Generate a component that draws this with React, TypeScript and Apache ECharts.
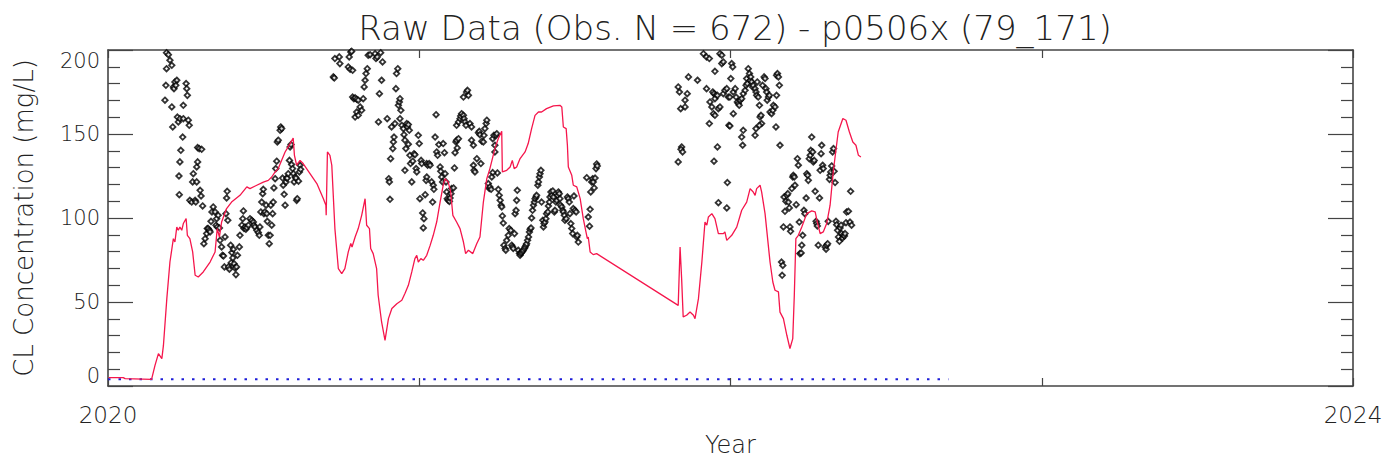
import React, { useEffect, useRef } from "react";
import * as echarts from "echarts";

// ---- Data ----
const xLabelYears = [2020, 2024];
const detectionLimit = [[2020.0, 4], [2022.70, 4]];

const model2020 = [
  [2020.002, 5.0], [2020.049, 5.0], [2020.055, 4.4], [2020.140, 4.0], [2020.151, 12.3], [2020.162, 19.3],
  [2020.173, 16.3], [2020.178, 24.0], [2020.189, 52.0], [2020.199, 73.8], [2020.210, 87.7], [2020.215, 85.7],
  [2020.221, 94.6], [2020.226, 92.7], [2020.231, 94.6], [2020.237, 92.7], [2020.242, 96.7], [2020.251, 99.6],
  [2020.255, 89.7], [2020.263, 87.7], [2020.272, 79.8], [2020.280, 65.9], [2020.290, 64.9], [2020.306, 67.9],
  [2020.328, 73.8], [2020.344, 79.8], [2020.351, 93.7], [2020.358, 88.7], [2020.365, 97.6], [2020.381, 105.6],
  [2020.397, 109.5], [2020.424, 113.5], [2020.446, 118.5], [2020.456, 117.5], [2020.478, 119.5], [2020.499, 121.4],
  [2020.515, 122.4], [2020.526, 124.4], [2020.537, 127.4], [2020.547, 129.4], [2020.569, 139.3], [2020.585, 144.3],
  [2020.595, 147.6], [2020.599, 137.3], [2020.606, 131.4], [2020.617, 134.3], [2020.627, 132.4], [2020.649, 126.4],
  [2020.671, 120.5], [2020.692, 111.5], [2020.700, 107.6], [2020.701, 101.6], [2020.705, 139.3], [2020.713, 137.3],
  [2020.719, 131.4], [2020.729, 93.7], [2020.740, 69.9], [2020.751, 66.9], [2020.761, 69.9], [2020.772, 79.8],
  [2020.780, 84.8], [2020.784, 82.7], [2020.794, 88.7], [2020.804, 93.7], [2020.815, 101.6], [2020.826, 111.5],
  [2020.831, 95.7], [2020.840, 93.7], [2020.844, 81.8], [2020.852, 78.8], [2020.863, 69.9], [2020.868, 54.0],
  [2020.879, 38.1], [2020.890, 27.2], [2020.901, 40.1], [2020.912, 46.1], [2020.928, 49.0], [2020.944, 51.0],
  [2020.954, 55.0], [2020.965, 59.9], [2020.976, 67.9], [2020.986, 75.8], [2020.992, 77.8], [2020.997, 73.8]
];

const model2021 = [
  [2021.005, 75.8], [2021.013, 74.8], [2021.024, 77.8], [2021.035, 83.7], [2021.045, 89.7], [2021.056, 97.6],
  [2021.067, 109.5], [2021.077, 119.5], [2021.083, 123.4], [2021.093, 121.4], [2021.101, 115.5], [2021.108, 101.6],
  [2021.120, 97.6], [2021.131, 93.7], [2021.142, 85.7], [2021.149, 78.8], [2021.158, 80.8], [2021.172, 78.8],
  [2021.185, 84.8], [2021.195, 88.7], [2021.206, 109.5], [2021.217, 123.4], [2021.227, 129.4], [2021.243, 141.3],
  [2021.254, 147.3], [2021.265, 151.6], [2021.267, 127.4], [2021.281, 128.4], [2021.292, 130.4], [2021.299, 134.3],
  [2021.305, 129.4], [2021.313, 130.4], [2021.324, 135.4], [2021.340, 139.3], [2021.350, 144.3], [2021.361, 153.2],
  [2021.372, 161.1], [2021.383, 163.1], [2021.393, 163.1], [2021.409, 165.1], [2021.431, 166.7], [2021.452, 167.1],
  [2021.458, 166.1], [2021.463, 154.2], [2021.472, 153.2], [2021.476, 143.3], [2021.479, 130.4], [2021.490, 125.4],
  [2021.495, 119.5], [2021.506, 118.5], [2021.517, 111.5], [2021.527, 99.6], [2021.540, 87.7], [2021.543, 88.7],
  [2021.549, 79.8], [2021.559, 78.2], [2021.570, 78.8], [2021.832, 48.0], [2021.838, 82.7], [2021.843, 63.9],
  [2021.848, 41.1], [2021.859, 42.1], [2021.870, 44.0], [2021.881, 42.1], [2021.886, 40.1], [2021.897, 52.0],
  [2021.908, 73.8], [2021.918, 97.6], [2021.924, 95.7], [2021.929, 100.6], [2021.940, 102.6], [2021.950, 99.6],
  [2021.961, 90.7], [2021.977, 90.7], [2021.982, 91.7], [2021.988, 86.7]
];

const model2022 = [
  [2022.004, 89.7], [2022.020, 94.6], [2022.036, 104.6], [2022.052, 109.5], [2022.063, 117.5], [2022.073, 115.5],
  [2022.079, 113.5], [2022.084, 117.5], [2022.095, 119.5], [2022.100, 115.5], [2022.111, 102.6], [2022.127, 73.8],
  [2022.136, 61.9], [2022.143, 57.0], [2022.154, 56.0], [2022.159, 44.0], [2022.170, 40.1], [2022.181, 30.2],
  [2022.191, 22.3], [2022.200, 28.2], [2022.205, 54.0], [2022.210, 87.7], [2022.218, 89.7], [2022.229, 94.6],
  [2022.245, 102.6], [2022.261, 104.2], [2022.272, 103.6], [2022.279, 97.6], [2022.288, 90.7], [2022.298, 91.7],
  [2022.309, 96.7], [2022.320, 107.6], [2022.330, 127.4], [2022.346, 151.2], [2022.361, 159.2], [2022.371, 158.2],
  [2022.382, 151.2], [2022.393, 145.2], [2022.403, 143.3], [2022.411, 137.3], [2022.419, 136.3]
];

const obs2020A = [
  [2020.188, 198.4], [2020.194, 197.2], [2020.199, 193.9], [2020.205, 190.9], [2020.188, 188.9], [2020.186, 179.0],
  [2020.183, 170.1], [2020.205, 166.1], [2020.210, 178.0], [2020.212, 177.0], [2020.215, 181.0], [2020.221, 182.0],
  [2020.218, 179.0], [2020.208, 154.2], [2020.223, 160.1], [2020.226, 157.2], [2020.231, 159.1], [2020.242, 159.1],
  [2020.240, 148.2], [2020.234, 140.3], [2020.231, 133.4], [2020.228, 125.0], [2020.229, 113.9], [2020.242, 167.1],
  [2020.251, 180.0], [2020.253, 177.0], [2020.255, 173.0], [2020.258, 158.2], [2020.261, 155.2], [2020.263, 110.5],
  [2020.269, 109.5], [2020.272, 121.5], [2020.274, 126.4], [2020.280, 110.5], [2020.282, 109.5], [2020.285, 121.5],
  [2020.285, 130.4], [2020.288, 133.4], [2020.288, 141.9], [2020.293, 141.3], [2020.301, 140.9], [2020.296, 116.5],
  [2020.299, 113.1], [2020.304, 107.2], [2020.308, 84.7], [2020.312, 87.7], [2020.317, 90.7], [2020.319, 93.7],
  [2020.322, 93.7], [2020.326, 92.7], [2020.328, 91.7], [2020.331, 98.0], [2020.334, 103.6], [2020.338, 106.6],
  [2020.344, 103.6], [2020.347, 95.7], [2020.349, 99.6], [2020.354, 101.6], [2020.351, 94.7], [2020.358, 94.1],
  [2020.360, 86.7], [2020.365, 82.8], [2020.368, 77.8], [2020.371, 77.4], [2020.374, 70.9], [2020.376, 88.7],
  [2020.379, 102.6], [2020.381, 111.9], [2020.383, 115.9], [2020.385, 98.6], [2020.387, 70.9], [2020.390, 69.5],
  [2020.394, 83.8], [2020.396, 73.4], [2020.398, 79.4], [2020.401, 76.2], [2020.403, 81.4], [2020.405, 72.8],
  [2020.408, 70.3], [2020.411, 66.3], [2020.413, 70.9], [2020.416, 77.8], [2020.422, 82.8], [2020.424, 89.7],
  [2020.430, 95.7], [2020.433, 99.6], [2020.435, 104.2], [2020.437, 93.7], [2020.440, 94.7], [2020.443, 93.3],
  [2020.446, 94.3], [2020.451, 95.7], [2020.456, 99.6], [2020.462, 98.6], [2020.467, 97.6], [2020.469, 95.7],
  [2020.472, 94.7], [2020.478, 92.7], [2020.483, 91.3], [2020.486, 89.7], [2020.488, 94.7], [2020.491, 103.6],
  [2020.494, 109.5], [2020.497, 114.5], [2020.499, 117.1], [2020.501, 102.6], [2020.504, 103.6], [2020.508, 107.6],
  [2020.510, 102.6], [2020.512, 98.0], [2020.515, 89.7], [2020.518, 84.7], [2020.521, 89.7], [2020.523, 107.6],
  [2020.526, 95.7], [2020.529, 102.6], [2020.531, 109.5], [2020.533, 117.9], [2020.537, 123.4], [2020.539, 129.4],
  [2020.542, 133.8], [2020.544, 145.3], [2020.547, 146.3], [2020.553, 152.2], [2020.555, 154.2], [2020.558, 153.2],
  [2020.561, 123.8], [2020.563, 119.5], [2020.566, 114.1], [2020.569, 107.6], [2020.572, 121.5], [2020.574, 123.8],
  [2020.576, 123.8], [2020.579, 126.4], [2020.583, 134.3], [2020.585, 142.3], [2020.588, 143.7], [2020.590, 131.8],
  [2020.593, 129.4], [2020.596, 126.4], [2020.598, 121.5], [2020.601, 124.4], [2020.604, 123.8], [2020.606, 110.5],
  [2020.608, 111.5], [2020.612, 121.9], [2020.615, 127.4], [2020.617, 131.4], [2020.619, 129.0]
];

const obs2020B = [
  [2020.724, 184.0], [2020.727, 183.4], [2020.729, 194.9], [2020.743, 195.9], [2020.745, 191.9], [2020.772, 189.9],
  [2020.778, 188.5], [2020.786, 187.9], [2020.775, 195.9], [2020.780, 198.8], [2020.783, 199.2], [2020.786, 172.0],
  [2020.790, 171.0], [2020.794, 171.5], [2020.799, 170.7], [2020.804, 170.1], [2020.810, 166.1], [2020.815, 164.1],
  [2020.799, 163.1], [2020.794, 160.1], [2020.804, 161.1], [2020.820, 171.0], [2020.823, 178.0], [2020.826, 182.0],
  [2020.829, 186.0], [2020.833, 188.9], [2020.836, 196.9], [2020.842, 197.2], [2020.858, 197.8], [2020.861, 194.9],
  [2020.865, 195.9], [2020.876, 198.4], [2020.882, 192.9], [2020.879, 182.0], [2020.872, 174.0], [2020.869, 157.2],
  [2020.897, 159.1], [2020.902, 123.4], [2020.904, 121.5], [2020.906, 111.1], [2020.908, 135.3], [2020.911, 154.2],
  [2020.915, 141.3], [2020.917, 145.3], [2020.919, 148.2], [2020.922, 156.2], [2020.925, 177.0], [2020.927, 186.0],
  [2020.931, 188.9], [2020.933, 167.1], [2020.936, 169.1], [2020.938, 171.0], [2020.941, 164.1], [2020.938, 159.1],
  [2020.944, 155.2], [2020.949, 153.2], [2020.951, 149.6], [2020.954, 146.3], [2020.957, 141.3], [2020.954, 128.4],
  [2020.960, 156.2], [2020.962, 154.2], [2020.965, 155.6], [2020.968, 152.2], [2020.965, 143.9], [2020.970, 137.3],
  [2020.972, 132.4], [2020.976, 121.5], [2020.979, 133.8], [2020.983, 138.3], [2020.986, 137.7], [2020.990, 129.4],
  [2020.992, 127.4], [2020.997, 149.2]
];

const obs2021A = [
  [2021.000, 144.3], [2021.002, 111.5], [2021.006, 134.3], [2021.008, 132.4], [2021.011, 103.0], [2021.013, 94.1],
  [2021.015, 99.6], [2021.019, 113.9], [2021.022, 122.4], [2021.024, 124.4], [2021.024, 132.4], [2021.027, 131.4],
  [2021.032, 132.4], [2021.035, 131.4], [2021.040, 121.5], [2021.043, 109.5], [2021.045, 119.5], [2021.047, 117.1],
  [2021.051, 148.2], [2021.054, 161.5], [2021.056, 139.3], [2021.059, 137.3], [2021.063, 143.7], [2021.067, 130.4],
  [2021.069, 127.8], [2021.072, 124.4], [2021.075, 121.5], [2021.077, 144.3], [2021.081, 138.9], [2021.083, 126.4],
  [2021.086, 121.5], [2021.088, 115.5], [2021.090, 111.5], [2021.093, 110.5], [2021.097, 109.9], [2021.099, 111.9],
  [2021.102, 114.5], [2021.104, 117.5], [2021.110, 117.9], [2021.113, 129.8], [2021.115, 138.9], [2021.118, 145.3],
  [2021.120, 146.3], [2021.122, 141.7], [2021.126, 147.2], [2021.120, 155.2], [2021.126, 157.2], [2021.131, 159.1],
  [2021.133, 160.7], [2021.136, 162.1], [2021.142, 161.1], [2021.144, 159.1], [2021.147, 157.2], [2021.150, 155.2],
  [2021.152, 175.0], [2021.158, 173.0], [2021.142, 172.0], [2021.155, 176.0], [2021.163, 156.2], [2021.168, 154.2],
  [2021.168, 146.3], [2021.174, 143.3], [2021.174, 131.4], [2021.176, 128.4], [2021.179, 127.4], [2021.185, 135.3],
  [2021.190, 150.8], [2021.193, 151.6], [2021.195, 149.6], [2021.198, 132.4], [2021.201, 145.7], [2021.206, 145.3],
  [2021.208, 149.2], [2021.211, 153.2], [2021.215, 156.2], [2021.217, 158.2], [2021.222, 120.5], [2021.225, 117.5]
];

const obs2021B = [
  [2021.236, 147.2], [2021.240, 149.2], [2021.243, 143.3], [2021.247, 149.2], [2021.243, 139.3], [2021.249, 150.2],
  [2021.251, 126.8], [2021.236, 127.0], [2021.233, 124.4], [2021.227, 118.5], [2021.231, 117.1], [2021.254, 117.1],
  [2021.257, 113.5], [2021.260, 110.5], [2021.263, 107.6], [2021.265, 106.6], [2021.267, 101.2], [2021.270, 97.0],
  [2021.272, 83.8], [2021.276, 81.8], [2021.278, 80.8], [2021.281, 86.7], [2021.286, 89.7], [2021.289, 93.7],
  [2021.294, 92.7], [2021.297, 83.8], [2021.300, 82.8], [2021.302, 81.8], [2021.306, 90.7], [2021.308, 102.6],
  [2021.311, 104.6], [2021.313, 110.5], [2021.315, 116.5], [2021.318, 80.8], [2021.322, 78.8], [2021.324, 77.8],
  [2021.326, 78.8], [2021.329, 79.4], [2021.332, 80.2], [2021.334, 80.8], [2021.338, 81.8], [2021.340, 82.8],
  [2021.343, 83.8], [2021.345, 84.7], [2021.348, 86.7], [2021.351, 88.7], [2021.354, 91.7], [2021.356, 93.3],
  [2021.359, 94.1], [2021.361, 100.0], [2021.364, 104.6], [2021.367, 107.6], [2021.370, 109.5], [2021.372, 111.5],
  [2021.375, 112.5], [2021.377, 113.5], [2021.381, 119.5], [2021.383, 121.5], [2021.386, 124.4], [2021.388, 126.4],
  [2021.391, 128.4], [2021.393, 109.5], [2021.397, 98.6], [2021.399, 94.7], [2021.401, 96.7], [2021.404, 97.6],
  [2021.407, 99.6], [2021.409, 102.6], [2021.413, 103.6], [2021.415, 107.2], [2021.418, 109.5], [2021.420, 112.5],
  [2021.423, 115.5], [2021.426, 113.5], [2021.429, 116.1], [2021.431, 112.5], [2021.434, 103.6], [2021.436, 104.6],
  [2021.439, 109.5], [2021.442, 110.5], [2021.445, 113.5], [2021.447, 115.5], [2021.450, 114.5], [2021.452, 111.5],
  [2021.454, 107.6], [2021.458, 106.6], [2021.461, 104.6], [2021.463, 103.6], [2021.466, 101.6], [2021.468, 98.6],
  [2021.472, 99.6], [2021.476, 112.5], [2021.479, 111.5], [2021.482, 109.5], [2021.484, 102.6], [2021.487, 96.7],
  [2021.490, 93.7], [2021.493, 90.7], [2021.495, 105.6], [2021.497, 113.1], [2021.500, 104.6], [2021.504, 103.6],
  [2021.506, 88.7], [2021.508, 89.7], [2021.511, 85.7], [2021.538, 124.0], [2021.543, 100.6], [2021.547, 95.1],
  [2021.549, 105.2], [2021.551, 115.5], [2021.554, 121.5], [2021.557, 123.4], [2021.559, 121.5], [2021.562, 117.9],
  [2021.565, 123.8], [2021.568, 129.4], [2021.570, 132.2], [2021.572, 131.0]
];

const obs2022A = [
  [2021.832, 178.0], [2021.836, 175.0], [2021.840, 165.1], [2021.843, 142.3], [2021.841, 140.9], [2021.846, 139.3],
  [2021.832, 133.4], [2021.854, 170.1], [2021.861, 174.0], [2021.854, 166.1], [2021.865, 184.0], [2021.894, 182.0],
  [2021.913, 197.8], [2021.923, 195.9], [2021.932, 194.9], [2021.950, 187.3], [2021.966, 197.8], [2021.972, 196.9],
  [2021.972, 191.9], [2021.977, 192.9], [2022.004, 191.9], [2022.007, 189.9], [2021.923, 177.0], [2021.943, 175.0],
  [2021.947, 174.0], [2021.953, 173.0], [2021.950, 171.0], [2021.958, 173.0], [2021.934, 169.1], [2021.940, 166.1],
  [2021.945, 162.1], [2021.950, 161.1], [2021.961, 165.1], [2021.966, 166.1], [2021.932, 156.2], [2021.958, 142.3],
  [2021.947, 133.8], [2021.977, 174.0], [2021.982, 176.0], [2021.988, 177.0], [2021.993, 172.0], [2021.998, 172.0],
  [2022.001, 183.0], [2022.009, 175.0], [2022.015, 177.0], [2022.018, 172.0], [2022.022, 169.1], [2022.025, 168.1],
  [2022.028, 167.1], [2022.031, 170.1], [2022.036, 171.0], [2022.041, 174.0], [2022.047, 176.0], [2022.050, 179.0],
  [2022.052, 183.0], [2022.054, 180.0], [2022.057, 188.9], [2022.061, 186.0], [2022.063, 182.0], [2022.065, 184.0],
  [2022.068, 181.0], [2022.071, 178.0], [2022.073, 179.0], [2022.079, 177.0], [2022.082, 175.0], [2022.084, 173.0],
  [2022.086, 181.0], [2022.089, 172.0], [2022.093, 167.1], [2022.095, 160.1], [2022.098, 161.1], [2022.100, 156.2],
  [2022.103, 179.0], [2022.108, 184.0], [2022.111, 183.0], [2022.114, 177.0], [2022.116, 175.0], [2022.118, 170.1],
  [2022.122, 172.0], [2022.125, 173.0], [2022.127, 163.1], [2022.132, 162.1], [2022.136, 164.1], [2022.138, 167.1],
  [2022.143, 166.1], [2022.146, 154.2], [2022.148, 184.9], [2022.151, 186.0], [2022.154, 184.0], [2022.157, 179.0],
  [2022.148, 173.0], [2022.159, 143.3], [2022.009, 162.1], [2021.995, 155.2], [2021.998, 154.8], [2022.041, 152.2],
  [2022.036, 148.2], [2022.039, 143.3], [2022.079, 149.2], [2022.082, 153.2], [2022.093, 155.2], [2021.990, 121.1],
  [2021.988, 106.0], [2021.961, 109.1]
];

const obs2022B = [
  [2022.164, 73.8], [2022.168, 71.8], [2022.166, 65.9], [2022.170, 94.7], [2022.172, 112.5], [2022.175, 104.0],
  [2022.178, 109.9], [2022.181, 113.5], [2022.184, 114.5], [2022.186, 109.5], [2022.189, 106.0], [2022.191, 94.7],
  [2022.193, 92.1], [2022.197, 117.5], [2022.200, 124.4], [2022.202, 125.4], [2022.205, 124.4], [2022.207, 119.5],
  [2022.211, 107.9], [2022.215, 135.3], [2022.218, 131.4], [2022.221, 97.6], [2022.223, 78.8], [2022.227, 79.2],
  [2022.229, 83.8], [2022.232, 89.7], [2022.236, 104.6], [2022.239, 102.6], [2022.243, 111.9], [2022.245, 126.4],
  [2022.248, 125.4], [2022.250, 122.4], [2022.253, 135.3], [2022.256, 137.3], [2022.258, 140.3], [2022.261, 148.2],
  [2022.264, 139.3], [2022.266, 133.4], [2022.269, 134.3], [2022.272, 115.9], [2022.275, 98.0], [2022.277, 96.7],
  [2022.279, 95.3], [2022.282, 83.8], [2022.286, 111.9], [2022.288, 128.4], [2022.291, 138.3], [2022.293, 143.3],
  [2022.296, 131.4], [2022.298, 129.4], [2022.304, 82.8], [2022.307, 81.4], [2022.309, 83.8], [2022.312, 84.7],
  [2022.314, 98.0], [2022.318, 123.0], [2022.320, 125.4], [2022.322, 127.4], [2022.325, 131.0], [2022.328, 139.3],
  [2022.331, 141.3], [2022.333, 127.8], [2022.336, 121.1], [2022.339, 98.0], [2022.341, 96.0], [2022.344, 92.7],
  [2022.347, 88.7], [2022.350, 86.1], [2022.352, 94.1], [2022.355, 95.7], [2022.357, 90.7], [2022.360, 88.1],
  [2022.363, 89.7], [2022.366, 89.3], [2022.368, 90.7], [2022.371, 97.2], [2022.373, 103.6], [2022.379, 104.0],
  [2022.384, 97.6], [2022.386, 115.9], [2022.389, 95.7]
];

const FONT = "'DejaVu Sans', 'Noto Sans', sans-serif";
const AXIS_COLOR = "#444";
const TEXT_COLOR = "#222";

export default function App() {
  const ref = useRef<HTMLDivElement>(null);

  useEffect(() => {
    if (!ref.current) return;
    const chart = echarts.init(ref.current, null, { renderer: "svg" });

    const axisLine = { show: true, onZero: false, lineStyle: { color: AXIS_COLOR, width: 1.6 } };
    const observations = [...obs2020A, ...obs2020B, ...obs2021A, ...obs2021B, ...obs2022A, ...obs2022B];
    const model = [...model2020, ...model2021, ...model2022];

    const xCommon = {
      type: "value",
      min: 2020,
      max: 2024,
      interval: 1,
      axisLine,
      splitLine: { show: false },
      axisTick: { show: true, inside: true, length: 8, lineStyle: { color: AXIS_COLOR, width: 1.2 } },
    };
    const yCommon = {
      type: "value",
      min: 0,
      max: 200,
      interval: 50,
      axisLine,
      splitLine: { show: false },
      axisTick: { show: true, inside: true, length: 25, lineStyle: { color: AXIS_COLOR, width: 1.2 } },
      minorTick: { show: true, splitNumber: 5, length: 12, lineStyle: { color: AXIS_COLOR, width: 1.2 } },
      minorSplitLine: { show: false },
    };

    chart.setOption({
      animation: false,
      backgroundColor: "#fff",
      title: {
        text: "Raw Data (Obs. N = 672) - p0506x (79_171)",
        left: 730,
        top: 6,
        textAlign: "center",
        textStyle: { fontFamily: FONT, fontSize: 34, fontWeight: 200, color: TEXT_COLOR },
      },
      grid: { left: 108, right: 35, top: 50, bottom: 80, containLabel: false, outerBoundsMode: "none" },
      xAxis: [
        {
          ...xCommon,
          position: "bottom",
          name: "Year",
          nameLocation: "middle",
          nameGap: 47,
          nameTextStyle: { fontFamily: FONT, fontSize: 24, fontWeight: 200, color: TEXT_COLOR },
          axisLabel: {
            show: true,
            margin: 17,
            fontFamily: FONT,
            fontSize: 23,
            fontWeight: 200,
            color: TEXT_COLOR,
            formatter: (v: number) => (xLabelYears.includes(Math.round(v)) ? String(Math.round(v)) : ""),
          },
        },
        { ...xCommon, position: "top", axisLabel: { show: false } },
      ],
      yAxis: [
        {
          ...yCommon,
          position: "left",
          name: "CL Concentration (mg/L)",
          nameLocation: "middle",
          nameGap: 71,
          nameRotate: 90,
          nameTextStyle: { fontFamily: FONT, fontSize: 26, fontWeight: 200, color: TEXT_COLOR },
          axisLabel: {
            show: true,
            margin: 8,
            fontFamily: FONT,
            fontSize: 21,
            fontWeight: 200,
            color: TEXT_COLOR,
            verticalAlignMinLabel: "bottom",
            verticalAlignMaxLabel: "top",
          },
        },
        { ...yCommon, position: "right", axisLabel: { show: false } },
      ],
      series: [
        {
          type: "line",
          xAxisIndex: 0,
          yAxisIndex: 0,
          data: detectionLimit,
          symbol: "none",
          lineStyle: { color: "#1c1cd8", width: 2, type: [2.5, 8] },
          z: 2,
        },
        {
          type: "scatter",
          xAxisIndex: 0,
          yAxisIndex: 0,
          data: observations,
          symbol: "diamond",
          symbolSize: [5.5, 5.5],
          itemStyle: { color: "#fff", borderColor: "#000", borderWidth: 1.8 },
          z: 3,
        },
        {
          type: "line",
          xAxisIndex: 0,
          yAxisIndex: 0,
          data: model,
          symbol: "none",
          lineStyle: { color: "#f5164c", width: 1.3 },
          z: 4,
        },
      ],
    });

    return () => chart.dispose();
  }, []);

  return (
    <div
      ref={ref}
      style={{ position: "absolute", left: 0, top: 0, width: 1388, height: 466, background: "#fff" }}
    />
  );
}
